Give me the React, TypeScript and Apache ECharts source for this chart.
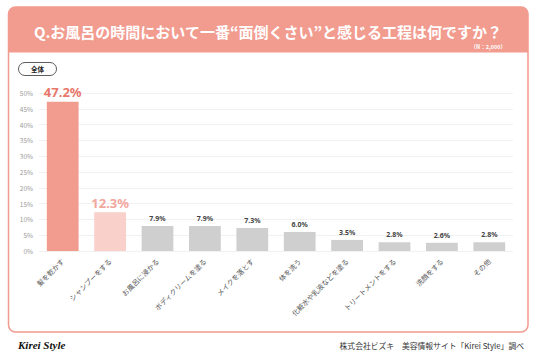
import React, { useEffect, useRef } from "react";
import * as echarts from "echarts";

const categories = [
  "髪を乾かす",
  "シャンプーをする",
  "お風呂に浸かる",
  "ボディクリームを塗る",
  "メイクを落とす",
  "体を洗う",
  "化粧水や乳液などを塗る",
  "トリートメントをする",
  "洗顔をする",
  "その他",
];
const values = [47.2, 12.3, 7.9, 7.9, 7.3, 6.0, 3.5, 2.8, 2.6, 2.8];
const yTicks = [0, 5, 10, 15, 20, 25, 30, 35, 40, 45, 50];

const title = "Q.お風呂の時間において一番“面倒くさい”と感じる工程は何ですか？";
const sampleNote = "（N：2,000）";
const segment = "全体";
const source = "株式会社ビズキ　美容情報サイト「Kirei Style」調べ";
const brand = "Kirei Style";

const SALMON = "#F29B8F";
const PINK = "#F9D0CA";
const GRAY = "#CFCFCF";
const FONT = "'Noto Sans CJK JP', 'Noto Sans', sans-serif";

export default function App() {
  const ref = useRef<HTMLDivElement>(null);
  useEffect(() => {
    if (!ref.current) return;
    const chart = echarts.init(ref.current, null, { renderer: "svg" });
    const barColors = values.map((_, i) => (i === 0 ? SALMON : i === 1 ? PINK : GRAY));
    chart.setOption({
      animation: false,
      textStyle: { fontFamily: FONT },
      grid: { left: 39, right: 23, top: 93, bottom: 106 },
      xAxis: {
        type: "category",
        data: categories,
        axisLine: { show: false },
        axisTick: { show: false },
        axisLabel: {
          interval: 0,
          rotate: 45,
          fontSize: 7,
          color: "#555",
          margin: 9,
          fontFamily: FONT,
        },
      },
      yAxis: {
        type: "value",
        min: 0,
        max: 50,
        interval: 5,
        axisLabel: {
          formatter: (v: number) => (yTicks.includes(v) ? v + "%" : ""),
          fontSize: 6.5,
          color: "#9a9a9a",
          margin: 6,
        },
        splitLine: { lineStyle: { color: "#f1f1f1", width: 1 } },
        axisLine: { show: false },
        axisTick: { show: false },
      },
      series: [
        {
          type: "bar",
          barCategoryGap: "33%",
          data: values.map((v, i) => ({
            value: v,
            itemStyle: { color: barColors[i] },
            label: {
              show: true,
              position: "top",
              formatter: v.toFixed(1) + "%",
              fontSize: i < 2 ? 13 : 7,
              fontWeight: "bold",
              distance: i < 2 ? 3 : 4,
              color: i === 0 ? "#E8776A" : i === 1 ? "#F2A79D" : "#444",
              fontFamily: "'Noto Sans', sans-serif",
            },
          })),
        },
      ],
      graphic: [
        {
          type: "rect",
          z: -10,
          shape: { x: 8.5, y: 7, width: 519.5, height: 325, r: 7 },
          style: { fill: "#fff", stroke: SALMON, lineWidth: 1.5 },
        },
        {
          type: "rect",
          z: -9,
          shape: { x: 8.5, y: 7, width: 519.5, height: 45.5, r: [7, 7, 0, 0] },
          style: { fill: SALMON },
        },
        {
          type: "text",
          x: 268,
          y: 31,
          style: {
            text: title,
            fill: "#fff",
            fontSize: 15,
            fontWeight: "bold",
            fontFamily: FONT,
            align: "center",
            verticalAlign: "middle",
          },
        },
        {
          type: "text",
          x: 506,
          y: 46.5,
          style: {
            text: sampleNote,
            fill: "#fff",
            fontSize: 5.5,
            fontWeight: "bold",
            fontFamily: FONT,
            align: "right",
            verticalAlign: "middle",
          },
        },
        {
          type: "rect",
          shape: { x: 18.5, y: 62.5, width: 38, height: 13, r: 6.5 },
          style: { fill: "#fff", stroke: "#333", lineWidth: 0.8 },
        },
        {
          type: "text",
          x: 37.5,
          y: 69,
          style: {
            text: segment,
            fill: "#222",
            fontSize: 6.5,
            fontWeight: "bold",
            fontFamily: FONT,
            align: "center",
            verticalAlign: "middle",
          },
        },
        {
          type: "text",
          x: 18,
          y: 345,
          style: {
            text: brand,
            fill: "#111",
            fontSize: 11,
            fontStyle: "italic",
            fontWeight: "bold",
            fontFamily: "'Liberation Serif', 'DejaVu Serif', serif",
            align: "left",
            verticalAlign: "middle",
          },
        },
        {
          type: "text",
          x: 524,
          y: 345,
          style: {
            text: source,
            fill: "#333",
            fontSize: 7.8,
            fontFamily: FONT,
            align: "right",
            verticalAlign: "middle",
          },
        },
      ],
    });
    return () => chart.dispose();
  }, []);
  return (
    <div
      ref={ref}
      style={{ position: "fixed", left: 0, top: 0, width: 536, height: 357, background: "#fff" }}
    />
  );
}
